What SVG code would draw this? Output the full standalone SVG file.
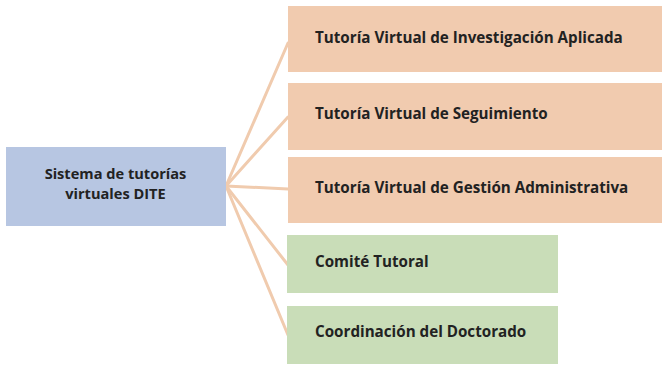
<svg xmlns="http://www.w3.org/2000/svg" width="662" height="366" viewBox="0 0 662 366">
<style>
.t{font-family:"Open Sans","Noto Sans",sans-serif;font-weight:bold;font-size:15.2px;fill:#222;font-variant-ligatures:none}
.m{font-size:14.6px}
.o{fill:#F1CBAF}
.g{fill:#C9DDB8}
.b{fill:#B7C6E2}
.c{stroke:#F0CBAE;stroke-width:3;fill:none;stroke-linecap:round}
</style>
<rect width="662" height="366" fill="#fff"/>
<g id="connectors">
<line class="c" x1="226" y1="186" x2="288" y2="43"/>
<line class="c" x1="226" y1="186" x2="288" y2="117"/>
<line class="c" x1="226" y1="186" x2="288" y2="189"/>
<line class="c" x1="226" y1="186" x2="288" y2="265"/>
<line class="c" x1="226" y1="186" x2="288" y2="335"/>
</g>
<g id="root">
<rect class="b" x="6" y="147" width="220" height="79"/>
<text class="t m" x="115.5" y="178.5" text-anchor="middle">Sistema de tutorías</text>
<text class="t m" x="115.5" y="198.5" text-anchor="middle">virtuales DITE</text>
</g>
<g id="n1">
<rect class="o" x="288" y="6" width="374" height="66"/>
<text class="t" x="315" y="42.5">Tutoría Virtual de Investigación Aplicada</text>
</g>
<g id="n2">
<rect class="o" x="288" y="83" width="374" height="67"/>
<text class="t" x="315" y="119">Tutoría Virtual de Seguimiento</text>
</g>
<g id="n3">
<rect class="o" x="288" y="157" width="374" height="66"/>
<text class="t" x="315" y="193">Tutoría Virtual de Gestión Administrativa</text>
</g>
<g id="n4">
<rect class="g" x="287" y="235" width="271" height="58"/>
<text class="t" x="315" y="267">Comité Tutoral</text>
</g>
<g id="n5">
<rect class="g" x="287" y="306" width="271" height="58"/>
<text class="t" x="315" y="337">Coordinación del Doctorado</text>
</g>
</svg>
